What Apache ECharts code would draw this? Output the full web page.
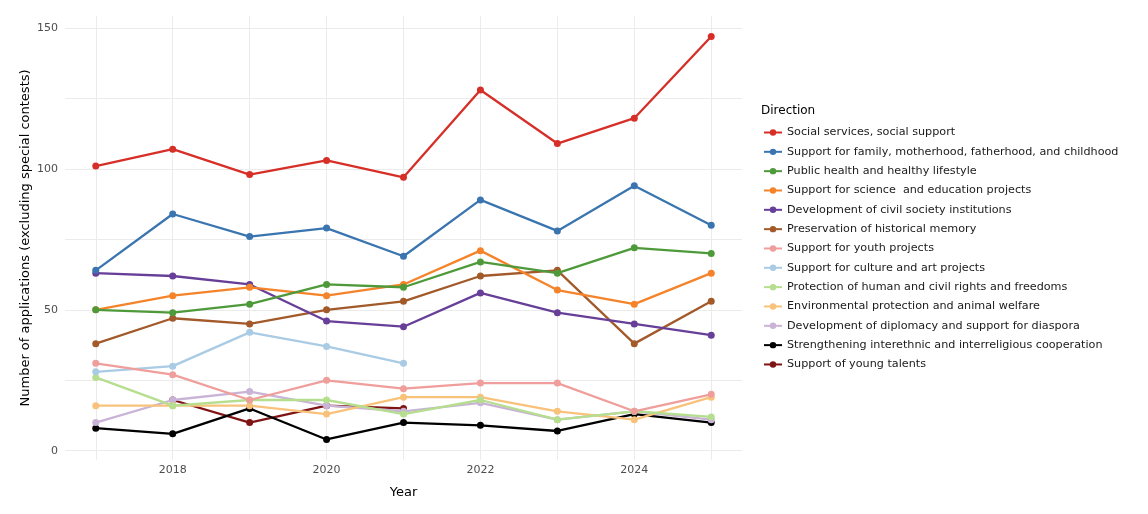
<!DOCTYPE html>
<html>
<head>
<meta charset="utf-8">
<script src="https://cdn.jsdelivr.net/npm/echarts@6/dist/echarts.min.js"></script>
<style>html,body{margin:0;padding:0;background:#fff}#c{width:1148px;height:514px}</style>
</head>
<body>
<div id="c"></div>
<script>
var years = [2017, 2018, 2019, 2020, 2021, 2022, 2023, 2024, 2025];
var xTickLabels = [2018, 2020, 2022, 2024];
var yTickLabels = [0, 50, 100, 150];
var seriesNames = [
  "Social services, social support",
  "Support for family, motherhood, fatherhood, and childhood",
  "Public health and healthy lifestyle",
  "Support for science  and education projects",
  "Development of civil society institutions",
  "Preservation of historical memory",
  "Support for youth projects",
  "Support for culture and art projects",
  "Protection of human and civil rights and freedoms",
  "Environmental protection and animal welfare",
  "Development of diplomacy and support for diaspora",
  "Strengthening interethnic and interreligious cooperation",
  "Support of young talents"
];
var socialServices   = [101, 107, 98, 103, 97, 128, 109, 118, 147];
var family           = [64, 84, 76, 79, 69, 89, 78, 94, 80];
var publicHealth     = [50, 49, 52, 59, 58, 67, 63, 72, 70];
var science          = [50, 55, 58, 55, 59, 71, 57, 52, 63];
var civilSociety     = [63, 62, 59, 46, 44, 56, 49, 45, 41];
var historicalMemory = [38, 47, 45, 50, 53, 62, 64, 38, 53];
var youth            = [31, 27, 18, 25, 22, 24, 24, 14, 20];
var culture          = [28, 30, 42, 37, 31, null, null, null, null];
var humanRights      = [26, 16, 18, 18, 13, 18, 11, 14, 12];
var environment      = [16, 16, 16, 13, 19, 19, 14, 11, 19];
var diplomacy        = [10, 18, 21, 16, 14, 17, 11, 14, 11];
var interethnic      = [8, 6, 15, 4, 10, 9, 7, 13, 10];
var youngTalents     = [null, 18, 10, 16, 15, null, null, null, null];

var allValues = [socialServices, family, publicHealth, science, civilSociety, historicalMemory,
  youth, culture, humanRights, environment, diplomacy, interethnic, youngTalents];
var colors = ["#d62f28", "#3a75b0", "#4e9a3a", "#f5832a", "#673f98", "#a35a2b", "#ef9e9b",
  "#a9cbe4", "#b5de8f", "#f8c27b", "#c9b3d6", "#000000", "#7f1414"];

var xMin = 2016.6, xMax = 2025.4;
var yMin = -3.15, yMax = 154.15;
var font = "DejaVu Sans";

var series = seriesNames.map(function (name, i) {
  return {
    name: name,
    type: 'line',
    data: years.map(function (y, j) { return [y, allValues[i][j]]; }),
    connectNulls: false,
    symbol: 'circle',
    symbolSize: 7,
    showSymbol: true,
    lineStyle: { width: 2.3, color: colors[i] },
    itemStyle: { color: colors[i] },
    z: 20 - i,
    emphasis: { disabled: true },
    animation: false
  };
});

var chart = echarts.init(document.getElementById('c'));
chart.setOption({
  animation: false,
  color: colors,
  title: {
    text: 'Direction', left: 756, top: 100,
    textStyle: { fontFamily: font, fontSize: 12, fontWeight: 'normal', color: '#000' }
  },
  legend: {
    orient: 'vertical', left: 758, top: 122,
    itemWidth: 18, itemHeight: 8, itemGap: 8.33,
    textStyle: { fontFamily: font, fontSize: 11.2, color: '#1a1a1a' },
    data: seriesNames
  },
  grid: { left: 65, right: 406, top: 16.3, bottom: 54.4, containLabel: false },
  xAxis: {
    type: 'value', min: xMin, max: xMax,
    name: 'Year', nameLocation: 'middle', nameGap: 27, nameMoveOverlap: false,
    nameTextStyle: { fontFamily: font, fontSize: 13, color: '#000' },
    axisLine: { show: false },
    axisTick: { show: false, customValues: years },
    axisLabel: { customValues: xTickLabels, margin: 5, fontFamily: font, fontSize: 11, color: '#4d4d4d',
      formatter: function (v) { return String(v); } },
    splitLine: { show: true, lineStyle: { color: '#ebebeb', width: 1 } }
  },
  yAxis: {
    type: 'value', min: yMin, max: yMax,
    name: 'Number of applications (excluding special contests)', nameLocation: 'middle', nameGap: 33, nameMoveOverlap: false,
    nameTextStyle: { fontFamily: font, fontSize: 13, color: '#000' },
    axisLine: { show: false },
    axisTick: { show: false, customValues: [0, 25, 50, 75, 100, 125, 150] },
    axisLabel: { customValues: yTickLabels, margin: 7, fontFamily: font, fontSize: 11, color: '#4d4d4d',
      formatter: function (v) { return String(v); } },
    splitLine: { show: true, lineStyle: { color: '#ebebeb', width: 1 } }
  },
  series: series
});
</script>
</body>
</html>
